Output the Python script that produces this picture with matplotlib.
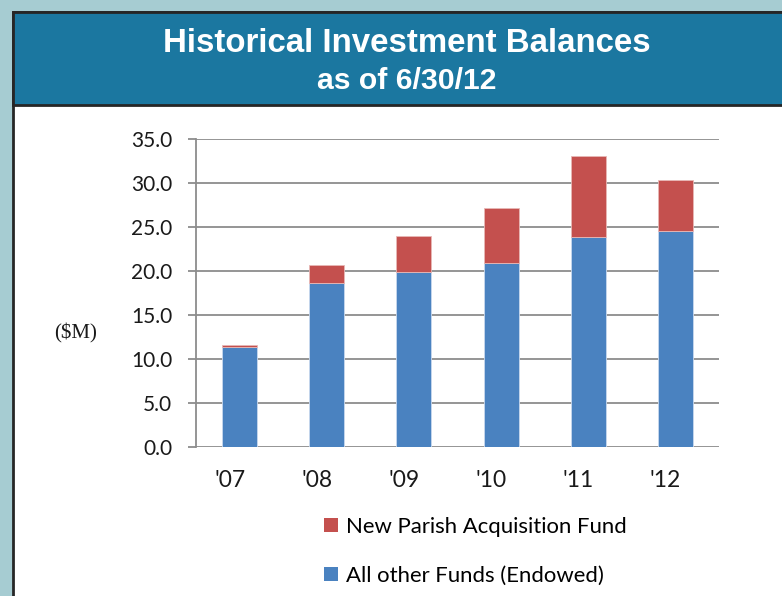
import matplotlib
matplotlib.use("Agg")
import matplotlib.pyplot as plt
from matplotlib.patches import Rectangle, Patch
from matplotlib.transforms import ScaledTranslation
import numpy as np

# ─── Data ────────────────────────────────────────────────────
years     = ["'07", "'08", "'09", "'10", "'11", "'12"]
endowed   = [11.3, 18.6, 19.9, 20.9, 23.9, 24.5]    # All other Funds (Endowed)
acq_fund  = [0.3, 2.1, 4.1, 6.2, 9.2, 5.8]          # New Parish Acquisition Fund
y_ticks   = [0, 5, 10, 15, 20, 25, 30, 35]

BLUE  = "#4a82c0"
RED   = "#c4504e"
GRID  = "#8c8c8c"
W, H  = 782, 596

fig = plt.figure(figsize=(W / 100, H / 100), dpi=100)
fig.patch.set_facecolor("#a6ccd2")

# white panel + header band (pixel coords → figure fraction)
def fx(px): return px / W
def fy(py): return 1 - py / H

fig.patches.append(Rectangle((fx(13), -0.01), fx(W + 5) - fx(13), fy(12) + 0.01,
                             transform=fig.transFigure, facecolor="white",
                             edgecolor="#262626", linewidth=2.0, zorder=-3))
fig.patches.append(Rectangle((fx(13), fy(104.5)), fx(W + 5) - fx(13), fy(12) - fy(104.5),
                             transform=fig.transFigure, facecolor="#1b77a0",
                             edgecolor="#262626", linewidth=2.0, zorder=-2))

fig.text(fx(407), fy(51.7), "Historical Investment Balances", color="white",
         fontsize=23.8, fontweight="bold", family="Liberation Sans",
         ha="center", va="baseline")
fig.text(fx(407), fy(89), "as of 6/30/12", color="white",
         fontsize=21.7, fontweight="bold", family="Liberation Sans",
         ha="center", va="baseline")

# ─── Chart ───────────────────────────────────────────────────
ax = fig.add_axes([fx(196), fy(446.7), fx(719) - fx(196), fy(139) - fy(446.7)])
ax.patch.set_alpha(0)
x = np.arange(len(years))
ax.bar(x, endowed, width=0.4, color=BLUE, edgecolor="#c9d9ee",
       linewidth=0.6, zorder=3)
ax.bar(x, acq_fund, width=0.4, bottom=endowed, color=RED,
       edgecolor="#e8b8b6", linewidth=0.6, zorder=3)

ax.set_xlim(-0.5, len(years) - 0.5)
ax.set_ylim(0, 35)
ax.set_yticks(y_ticks)
ax.set_yticklabels([f"{v:.1f}" for v in y_ticks])
ax.set_xticks(x)
ax.set_xticklabels(years)

for s in ["top", "right", "bottom"]:
    ax.spines[s].set_visible(False)
ax.spines["left"].set_color(GRID)
ax.spines["left"].set_linewidth(1.3)
ax.yaxis.grid(True, color=GRID, linewidth=1.3, zorder=0)
ax.set_axisbelow(True)
ax.tick_params(axis="y", length=6, width=1.3, color=GRID, pad=11,
               labelsize=15, labelcolor="#1a1a1a")
ax.tick_params(axis="x", length=0, pad=17, labelsize=16.5, labelcolor="#1a1a1a")
for lab in ax.get_xticklabels() + ax.get_yticklabels():
    lab.set_family("Lato")
# category labels sit slightly left of the bar centres in the original
shift = ScaledTranslation(-10 / 100, 0, fig.dpi_scale_trans)
for lab in ax.get_xticklabels():
    lab.set_transform(lab.get_transform() + shift)

fig.text(fx(76), fy(333), "($M)", fontsize=15, family="Liberation Serif",
         ha="center", va="center", color="#1a1a1a")

handles = [Patch(facecolor=RED), Patch(facecolor=BLUE)]
labels  = ["New Parish Acquisition Fund", "All other Funds (Endowed)"]
fig.legend(handles, labels, loc="upper left",
           bbox_to_anchor=(fx(324), fy(517)), frameon=False,
           prop={"family": "Lato", "size": 15.9},
           handlelength=0.63, handleheight=0.63, handletextpad=0.35,
           labelspacing=1.3, borderaxespad=0, borderpad=0)

fig.savefig("out.png", dpi=100, facecolor=fig.get_facecolor())
